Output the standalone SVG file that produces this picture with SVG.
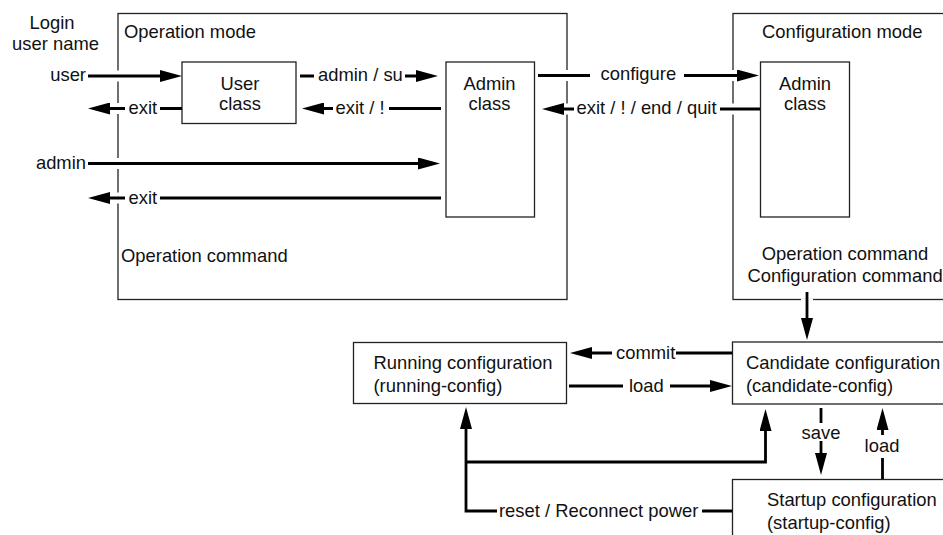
<svg xmlns="http://www.w3.org/2000/svg" width="943" height="535" viewBox="0 0 943 535">
<style>
text{font-family:"Liberation Sans",Arial,sans-serif;font-size:18.4px;fill:#111}
.box{fill:#fff;stroke:#222;stroke-width:1.3}
.ln{fill:none;stroke:#000;stroke-width:2.8;stroke-linejoin:miter}
.arr{marker-end:url(#ah)}
.gap{fill:none;stroke:#fff;stroke-width:3}
.m{text-anchor:middle}
.e{text-anchor:end}
</style>
<defs>
<marker id="ah" markerUnits="userSpaceOnUse" markerWidth="22" markerHeight="12" viewBox="0 0 22 12" refX="10" refY="6" orient="auto"><path d="M0,0 L22,6 L0,12 z" fill="#000"/></marker>
</defs>
<rect width="943" height="535" fill="#fff"/>
<g id="login-label">
<text class="m" x="52" y="29">Login</text>
<text class="m" x="55.5" y="50">user name</text>
</g>
<g id="operation-mode">
<rect class="box" x="118" y="13.5" width="449" height="286"/>
<text x="124" y="38">Operation mode</text>
<text x="121" y="262">Operation command</text>
</g>
<g id="user-class">
<rect class="box" x="182" y="62" width="114" height="61.5"/>
<text class="m" x="240" y="90">User</text>
<text class="m" x="240" y="110">class</text>
</g>
<g id="admin-class-op">
<rect class="box" x="446" y="62" width="88.5" height="155"/>
<text class="m" x="489.5" y="90">Admin</text>
<text class="m" x="489.5" y="110">class</text>
</g>
<g id="configuration-mode">
<rect class="box" x="733" y="13.5" width="240" height="286"/>
<text x="762" y="38">Configuration mode</text>
<text class="m" x="845" y="260">Operation command</text>
<text class="m" x="845" y="282">Configuration command</text>
</g>
<g id="admin-class-config">
<rect class="box" x="760.5" y="62" width="89" height="155"/>
<text class="m" x="805" y="90">Admin</text>
<text class="m" x="805" y="110">class</text>
</g>
<g id="running-config">
<rect class="box" x="353.5" y="342.5" width="213" height="61"/>
<text x="373.5" y="368.5">Running configuration</text>
<text x="373.5" y="391.5">(running-config)</text>
</g>
<g id="candidate-config">
<rect class="box" x="732.5" y="342" width="240" height="62"/>
<text x="746" y="368.5">Candidate configuration</text>
<text x="746" y="391.5">(candidate-config)</text>
</g>
<g id="startup-config">
<rect class="box" x="732.5" y="479.5" width="240" height="80"/>
<text x="767" y="506">Startup configuration</text>
<text x="767" y="529">(startup-config)</text>
</g>
<g id="connectors">
<path class="gap" d="M118,70.5 V81.5 M118,103 V114 M118,158 V169 M118,192.5 V203.5 M567,70 V81 M567,103.5 V114.5 M733,70 V81 M733,103.5 V114.5 M801,300 H813"/>
<path class="ln arr" d="M88,76 H170"/>
<path class="ln arr" d="M182,108.5 H160 M125,108.5 H100"/>
<path class="ln arr" d="M88,163.5 H428"/>
<path class="ln arr" d="M441,198 H160 M125,198 H100"/>
<path class="ln arr" d="M300,76 H314 M405,76 H426"/>
<path class="ln arr" d="M441,108.5 H389 M333,108.5 H314"/>
<path class="ln arr" d="M538,75.5 H590 M684,75.5 H747"/>
<path class="ln arr" d="M760,109 H720 M574,109 H554"/>
<path class="ln arr" d="M807,292 V328"/>
<path class="ln arr" d="M732,353 H676 M612,353 H582"/>
<path class="ln arr" d="M569,386 H623 M670,386 H720"/>
<path class="ln arr" d="M732,511 H702 M497,511 H466 V419"/>
<path class="ln arr" d="M466,462 H765.5 V421"/>
<path class="ln arr" d="M821,408 V423 M821,441 V463"/>
<path class="ln arr" d="M882.5,479 V458 M882.5,435 V420"/>
<text class="e" x="86" y="81">user</text>
<text x="128.5" y="113.5">exit</text>
<text class="e" x="86" y="168.5">admin</text>
<text x="128.5" y="204">exit</text>
<text x="318" y="81">admin / su</text>
<text x="335.5" y="113.5">exit / !</text>
<text x="600.5" y="79.5">configure</text>
<text x="576.5" y="114">exit / ! / end / quit</text>
<text x="616" y="358.5">commit</text>
<text x="629" y="391.5">load</text>
<text x="499" y="516.5">reset / Reconnect power</text>
<text class="m" x="821" y="439">save</text>
<text class="m" x="882" y="452">load</text>
</g>
</svg>
